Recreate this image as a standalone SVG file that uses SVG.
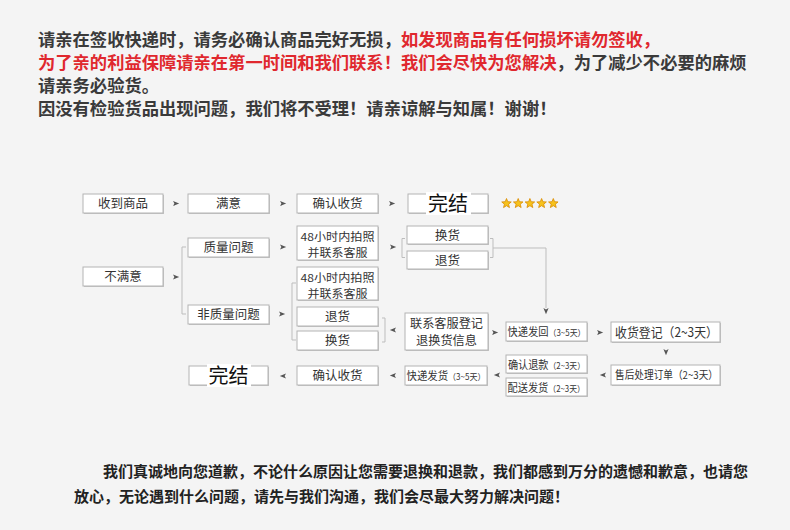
<svg xmlns="http://www.w3.org/2000/svg" xmlns:xlink="http://www.w3.org/1999/xlink" width="790" height="530" viewBox="0 0 790 530">
<style>
.bg{fill:#f4f4f4}
.hd{font-family:"Noto Sans CJK SC","Noto Sans",sans-serif;font-weight:700;font-size:17.3px;fill:#3a3a3a}
.red{fill:#e0282e}
.ft{font-family:"Noto Sans CJK SC","Noto Sans",sans-serif;font-weight:700;font-size:15px;fill:#222}
.sh{fill:#c4c4c4}
.bx{fill:#fff;stroke:#b4b4b4;stroke-width:1}
.t{font-family:"Noto Sans CJK SC","Noto Sans",sans-serif;font-size:12.5px;fill:#333;text-anchor:middle}
.t2{font-family:"Noto Sans CJK SC","Noto Sans",sans-serif;font-size:11px;fill:#333;text-anchor:middle}
.t13{font-family:"Noto Sans CJK SC","Noto Sans",sans-serif;font-size:13px;fill:#333;text-anchor:middle}
.t12{font-family:"Noto Sans CJK SC","Noto Sans",sans-serif;font-size:12px;fill:#333;text-anchor:middle}
.s{font-family:"Noto Sans CJK SC","Noto Sans",sans-serif;font-size:11px;fill:#333}
.xs{font-size:8.5px}
.end{font-family:"Noto Sans CJK SC","Noto Sans",sans-serif;font-size:20px;fill:#111;text-anchor:middle}
.ln{fill:none;stroke:#bdbdbd;stroke-width:1}
.ah{fill:#555}
.star{fill:#f6c21c;stroke:#d98a00;stroke-width:0.8}
</style>
<defs>
<path id="ar" d="M-3,-2.6 L3.2,0 L-3,2.6 L-1.6,0 Z"/>
<polygon id="st" points="0,-5 1.29,-1.78 4.76,-1.55 2.09,0.68 2.94,4.05 0,2.2 -2.94,4.05 -2.09,0.68 -4.76,-1.55 -1.29,-1.78"/>
</defs>
<rect class="bg" x="0" y="0" width="790" height="530"/>

<g id="header">
<text class="hd" x="38" y="46.2">请亲在签收快递时，请务必确认商品完好无损，<tspan class="red">如发现商品有任何损坏请勿签收，</tspan></text>
<text class="hd" x="38" y="69.2"><tspan class="red">为了亲的利益保障请亲在第一时间和我们联系！我们会尽快为您解决</tspan>，为了减少不必要的麻烦</text>
<text class="hd" x="38" y="92.2">请亲务必验货。</text>
<text class="hd" x="38" y="115.2">因没有检验货品出现问题，我们将不受理！请亲谅解与知属！谢谢！</text>
</g>

<g id="connectors">
<path class="ln" d="M186,247 H182 V314 H186"/>
<path class="ln" d="M296,283 H292 V340 H296"/>
<path class="ln" d="M405,238.5 H402 V257.5 H405"/>
<path class="ln" d="M490,238.5 H493 V257.5 H490 M493,248 H546 V308"/>
<path class="ln" d="M382,318 H385 V342 H382"/>
<g class="ah">
<use xlink:href="#ar" href="#ar" transform="translate(176,203.5)"/>
<use xlink:href="#ar" href="#ar" transform="translate(283,203.5)"/>
<use xlink:href="#ar" href="#ar" transform="translate(392,203.5)"/>
<use xlink:href="#ar" href="#ar" transform="translate(176,277)"/>
<use xlink:href="#ar" href="#ar" transform="translate(283,247)"/>
<use xlink:href="#ar" href="#ar" transform="translate(282,314)"/>
<use xlink:href="#ar" href="#ar" transform="translate(393,247)"/>
<use xlink:href="#ar" href="#ar" transform="translate(495,332.5)"/>
<use xlink:href="#ar" href="#ar" transform="translate(600,332.5)"/>
<use xlink:href="#ar" href="#ar" transform="translate(393,330) rotate(180)"/>
<use xlink:href="#ar" href="#ar" transform="translate(603,375) rotate(180)"/>
<use xlink:href="#ar" href="#ar" transform="translate(497,375) rotate(180)"/>
<use xlink:href="#ar" href="#ar" transform="translate(393,375.5) rotate(180)"/>
<use xlink:href="#ar" href="#ar" transform="translate(283,376) rotate(180)"/>
<use xlink:href="#ar" href="#ar" transform="translate(546,311) rotate(90)"/>
<use xlink:href="#ar" href="#ar" transform="translate(666,352) rotate(90)"/>
</g>
</g>

<g id="n-receive"><rect class="sh" x="84" y="195" width="80" height="19"/><rect class="bx" x="83" y="194" width="80" height="19"/><text class="t" x="123" y="208">收到商品</text></g>
<g id="n-satisfied"><rect class="sh" x="189" y="195" width="81" height="19"/><rect class="bx" x="188" y="194" width="81" height="19"/><text class="t" x="228.5" y="208">满意</text></g>
<g id="n-confirm1"><rect class="sh" x="298" y="195" width="81" height="19"/><rect class="bx" x="297" y="194" width="81" height="19"/><text class="t" x="337.5" y="208">确认收货</text></g>
<g id="n-done1"><rect class="sh" x="409" y="195" width="80" height="19"/><rect class="bx" x="408" y="194" width="80" height="19"/><rect x="426" y="192" width="45" height="23" fill="#fff"/><text class="end" x="448" y="211">完结</text></g>
<g id="stars">
<use xlink:href="#st" href="#st" class="star" transform="translate(506.5,203.5)"/>
<use xlink:href="#st" href="#st" class="star" transform="translate(518.2,203.5)"/>
<use xlink:href="#st" href="#st" class="star" transform="translate(529.9,203.5)"/>
<use xlink:href="#st" href="#st" class="star" transform="translate(541.6,203.5)"/>
<use xlink:href="#st" href="#st" class="star" transform="translate(553.3,203.5)"/>
</g>

<g id="n-unsatisfied"><rect class="sh" x="84" y="268" width="80" height="19"/><rect class="bx" x="83" y="267" width="80" height="19"/><text class="t" x="123" y="281">不满意</text></g>
<g id="n-quality"><rect class="sh" x="189" y="239" width="81" height="19"/><rect class="bx" x="188" y="238" width="81" height="19"/><text class="t" x="228.5" y="252">质量问题</text></g>
<g id="n-nonquality"><rect class="sh" x="189" y="306" width="81" height="19"/><rect class="bx" x="188" y="305" width="81" height="19"/><text class="t" x="228.5" y="319">非质量问题</text></g>

<g id="n-photo1"><rect class="sh" x="298" y="227" width="81" height="34"/><rect class="bx" x="297" y="226" width="81" height="34"/><text class="t2" x="337.5" y="241" textLength="74" lengthAdjust="spacingAndGlyphs">48小时内拍照</text><text class="t2" x="337.5" y="257" textLength="60" lengthAdjust="spacingAndGlyphs">并联系客服</text></g>
<g id="n-photo2"><rect class="sh" x="298" y="268" width="81" height="33"/><rect class="bx" x="297" y="267" width="81" height="33"/><text class="t2" x="337.5" y="281.5" textLength="74" lengthAdjust="spacingAndGlyphs">48小时内拍照</text><text class="t2" x="337.5" y="297.5" textLength="60" lengthAdjust="spacingAndGlyphs">并联系客服</text></g>
<g id="n-return-l"><rect class="sh" x="298" y="308" width="81" height="19"/><rect class="bx" x="297" y="307" width="81" height="19"/><text class="t" x="337.5" y="321">退货</text></g>
<g id="n-exchange-l"><rect class="sh" x="298" y="332" width="81" height="19"/><rect class="bx" x="297" y="331" width="81" height="19"/><text class="t" x="337.5" y="345">换货</text></g>

<g id="n-exchange-r"><rect class="sh" x="408" y="227" width="81" height="18"/><rect class="bx" x="407" y="226" width="81" height="18"/><text class="t" x="447.5" y="239.5">换货</text></g>
<g id="n-return-r"><rect class="sh" x="408" y="252" width="81" height="18"/><rect class="bx" x="407" y="251" width="81" height="18"/><text class="t" x="447.5" y="264.5">退货</text></g>

<g id="n-contact"><rect class="sh" x="406" y="314" width="83" height="37"/><rect class="bx" x="405" y="313" width="83" height="37"/><text class="t12" x="446.5" y="327.5" textLength="73" lengthAdjust="spacingAndGlyphs">联系客服登记</text><text class="t12" x="446.5" y="345" textLength="61" lengthAdjust="spacingAndGlyphs">退换货信息</text></g>
<g id="n-sendback"><rect class="sh" x="507" y="323" width="81" height="19"/><rect class="bx" x="506" y="322" width="81" height="19"/><text class="s" x="507.5" y="336" textLength="78" lengthAdjust="spacingAndGlyphs">快递发回<tspan class="xs">（3~5天）</tspan></text></g>
<g id="n-register"><rect class="sh" x="612" y="323" width="109" height="20"/><rect class="bx" x="611" y="322" width="109" height="20"/><text class="t13" x="666.5" y="337" textLength="103" lengthAdjust="spacingAndGlyphs">收货登记（2~3天）</text></g>
<g id="n-process"><rect class="sh" x="612" y="366" width="109" height="20"/><rect class="bx" x="611" y="365" width="109" height="20"/><text class="s" x="615" y="379" textLength="103" lengthAdjust="spacingAndGlyphs">售后处理订单（2~3天）</text></g>
<g id="n-refund"><rect class="sh" x="507" y="356" width="81" height="18"/><rect class="bx" x="506" y="355" width="81" height="18"/><text class="s" x="508" y="368.5" textLength="77" lengthAdjust="spacingAndGlyphs">确认退款<tspan class="xs">（2~3天）</tspan></text></g>
<g id="n-ship"><rect class="sh" x="507" y="379" width="81" height="18"/><rect class="bx" x="506" y="378" width="81" height="18"/><text class="s" x="507.5" y="391.5" textLength="77.5" lengthAdjust="spacingAndGlyphs">配送发货<tspan class="xs">（2~3天）</tspan></text></g>
<g id="n-deliver"><rect class="sh" x="406" y="367" width="82" height="19"/><rect class="bx" x="405" y="366" width="82" height="19"/><text class="s" x="406.5" y="380" textLength="79" lengthAdjust="spacingAndGlyphs">快递发货<tspan class="xs">（3~5天）</tspan></text></g>
<g id="n-confirm2"><rect class="sh" x="298" y="367" width="81" height="19"/><rect class="bx" x="297" y="366" width="81" height="19"/><text class="t" x="337.5" y="380">确认收货</text></g>
<g id="n-done2"><rect class="sh" x="190" y="367" width="79" height="19"/><rect class="bx" x="189" y="366" width="79" height="19"/><rect x="207" y="364" width="44" height="23" fill="#fff"/><text class="end" x="228.5" y="383">完结</text></g>

<g id="footer">
<text class="ft" x="103" y="477">我们真诚地向您道歉，不论什么原因让您需要退换和退款，我们都感到万分的遗憾和歉意，也请您</text>
<text class="ft" x="74" y="502">放心，无论遇到什么问题，请先与我们沟通，我们会尽最大努力解决问题！</text>
</g>
</svg>
